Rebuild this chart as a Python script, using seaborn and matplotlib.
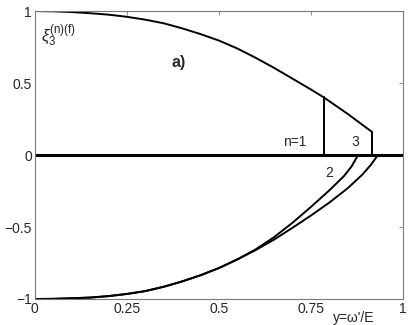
import numpy as np
import pandas as pd

import matplotlib
matplotlib.use('Agg')
import matplotlib.pyplot as plt
import seaborn as sns

# upper branch (n=1 and n=3 share it)
x_up = [0.0, 0.05, 0.10, 0.15, 0.20, 0.25, 0.30, 0.35, 0.40, 0.45, 0.50, 0.55, 0.60,
        0.65, 0.70, 0.75, 0.785, 0.85, 0.916]
y_up = [1.0, 0.998, 0.993, 0.985, 0.975, 0.96, 0.94, 0.915, 0.88, 0.84, 0.795, 0.74, 0.675,
        0.605, 0.53, 0.455, 0.40, 0.285, 0.16]

# lower branches, n=2 (inner) and outer one
x_lo_common = [0.0, 0.05, 0.10, 0.15, 0.20, 0.25, 0.30, 0.35, 0.40, 0.45, 0.50, 0.55]
y_lo_common = [-1.0, -0.999, -0.995, -0.99, -0.98, -0.965, -0.945, -0.915, -0.878, -0.835, -0.785, -0.725]
x_lo_inner = [0.60, 0.65, 0.70, 0.75, 0.80, 0.84, 0.86, 0.878]
y_lo_inner = [-0.655, -0.57, -0.47, -0.36, -0.245, -0.145, -0.08, 0.0]
x_lo_outer = [0.60, 0.65, 0.70, 0.75, 0.80, 0.85, 0.89, 0.912, 0.932]
y_lo_outer = [-0.66, -0.587, -0.505, -0.42, -0.33, -0.23, -0.135, -0.07, 0.0]

# vertical cut-offs
x_cut = [0.785, 0.916]
y_cut = [0.40, 0.16]

xticks = [0, 0.25, 0.5, 0.75, 1]
xticklabels = ['0', '0.25', '0.5', '0.75', '1']
yticks = [-1, -0.5, 0, 0.5, 1]
yticklabels = ['\u22121', '\u22120.5', '0', '0.5', '1']

sns.set_style('white')
plt.rcParams['font.family'] = ['Liberation Sans', 'DejaVu Sans']
plt.rcParams['mathtext.fontset'] = 'custom'
plt.rcParams['mathtext.rm'] = 'Liberation Sans'
plt.rcParams['mathtext.it'] = 'Liberation Sans:italic'

fig = plt.figure(figsize=(4.1, 3.25), dpi=100)
ax = fig.add_axes([0.085, 0.08, 0.898, 0.886])

lw = 1.4
sns.lineplot(x=x_up, y=y_up, ax=ax, color='black', lw=lw, sort=False, estimator=None)
sns.lineplot(x=x_lo_common + x_lo_inner, y=y_lo_common + y_lo_inner, ax=ax,
             color='black', lw=lw, sort=False, estimator=None)
sns.lineplot(x=x_lo_common + x_lo_outer, y=y_lo_common + y_lo_outer, ax=ax,
             color='black', lw=lw, sort=False, estimator=None)
for xc, yc in zip(x_cut, y_cut):
    sns.lineplot(x=[xc, xc], y=[0, yc], ax=ax, color='black', lw=lw, sort=False, estimator=None)
sns.lineplot(x=[0, 1], y=[0, 0], ax=ax, color='black', lw=2.2, sort=False, estimator=None)

ax.set_xlim(0, 1)
ax.set_ylim(-1, 1)
ax.set_xticks(xticks)
ax.set_xticklabels(xticklabels)
ax.set_yticks(yticks)
ax.set_yticklabels(yticklabels)
ax.tick_params(direction='in', length=3, width=0.6, color='#777777', labelsize=10,
               top=True, right=True, pad=2)
for s in ax.spines.values():
    s.set_color('#777777')
    s.set_linewidth(0.8)

ax.text(0.018, 0.83, r'$\xi_3^{\mathrm{(n)(f)}}$', fontsize=12, va='center')
ax.text(0.39, 0.645, 'a)', fontsize=11.5, fontweight='bold', ha='center', va='center')
ax.text(0.705, 0.09, 'n=1', fontsize=10, ha='center', va='center')
ax.text(0.87, 0.09, '3', fontsize=10, ha='center', va='center')
ax.text(0.80, -0.125, '2', fontsize=10, ha='center', va='center')
ax.text(0.865, -1.135, "y=\u03c9'/E", fontsize=10, ha='center', va='center', clip_on=False)

plt.savefig('out.png', dpi=100)
